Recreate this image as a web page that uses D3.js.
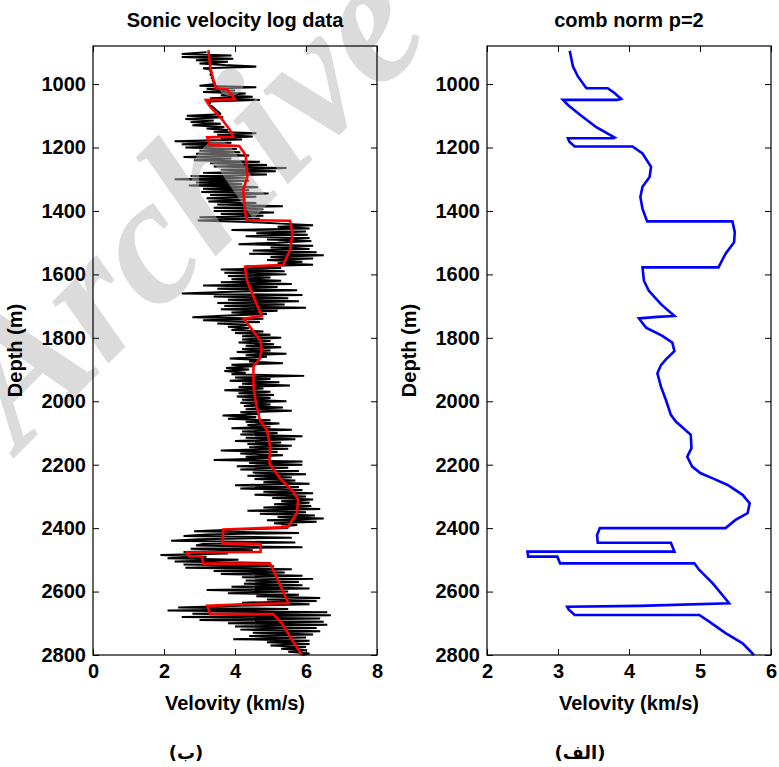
<!DOCTYPE html>
<html>
<head>
<meta charset="utf-8">
<script src="https://cdn.jsdelivr.net/npm/d3@7"></script>
<style>
  body { margin: 0; background: #fff; }
  svg { display: block; }
</style>
</head>
<body>
<svg id="chart" width="779" height="767"></svg>
<script>
// sonic log, one sample every 5 m starting at 900 m (rows = 100 m)
const logTop = 900
const logStep = 5
const logVel = [
  3.2, 2.5, 3.9, 2.5, 3.95, 2.9, 3.8, 3.0, 3.7, 4.6, 3.1, 3.32, 3.3, 3.35, 3.3, 3.36, 3.34, 3.38, 3.37, 3.42,
  3.45, 3.0, 4.6, 3.2, 4.0, 3.1, 4.3, 3.6, 4.5, 3.3, 4.7, 3.25, 3.3, 3.25, 3.35, 3.4, 3.45, 3.5, 3.55, 3.6,
  2.64, 3.67, 2.6, 3.4, 2.75, 3.6, 2.8, 3.7, 3.2, 3.8, 3.4, 4.6, 3.5, 4.5, 3.6, 4.2, 2.3, 3.9, 2.5, 4.1,
  2.6, 4.05, 3.0, 4.15, 2.9, 4.4, 2.55, 3.9, 2.85, 4.7, 3.3, 4.9, 3.4, 5.45, 3.6, 5.15, 3.1, 4.9, 2.75, 4.3,
  2.3, 4.4, 2.9, 4.2, 2.7, 4.65, 3.1, 4.4, 3.05, 4.95, 3.3, 4.6, 3.2, 4.3, 3.25, 4.6, 3.5, 5.35, 3.4, 4.8,
  3.4, 5.1, 3.6, 4.8, 3.0, 4.7, 2.95, 4.4, 5.3, 6.2, 5.2, 6.1, 3.9, 6.0, 4.6, 6.05, 4.3, 6.1, 4.9, 6.15,
  5.2, 4.1, 6.2, 5.0, 6.1, 4.5, 6.3, 4.4, 6.5, 5.0, 6.2, 4.9, 5.9, 5.2, 6.2, 4.3, 5.3, 3.6, 5.4, 3.7,
  5.45, 3.8, 5.0, 3.9, 5.3, 3.6, 5.6, 3.1, 5.2, 3.5, 5.75, 3.9, 2.5, 5.9, 3.4, 5.5, 3.8, 5.8, 3.5, 5.4,
  3.7, 6.0, 3.6, 5.2, 3.9, 4.9, 3.8, 2.8, 4.8, 3.1, 4.7, 3.5, 4.4, 3.8, 4.4, 3.9, 4.8, 4.0, 5.0, 4.2,
  5.3, 4.2, 5.0, 4.1, 5.1, 4.3, 5.3, 4.2, 5.0, 4.05, 5.45, 4.3, 4.9, 3.85, 4.7, 4.4, 5.35, 3.9, 4.5, 3.75,
  4.4, 3.7, 4.3, 3.9, 5.95, 4.0, 5.0, 3.85, 5.25, 4.2, 5.55, 4.1, 4.8, 3.7, 5.0, 4.1, 5.1, 4.05, 5.0, 4.2,
  5.45, 4.15, 5.0, 4.25, 5.35, 4.3, 5.6, 4.15, 4.7, 3.65, 4.6, 3.8, 5.0, 4.3, 5.25, 4.35, 5.0, 3.9, 5.6, 4.2,
  5.2, 4.15, 5.9, 4.3, 5.7, 4.0, 5.3, 4.35, 5.6, 4.4, 5.5, 3.6, 5.2, 4.15, 5.35, 4.3, 5.0, 3.4, 5.9, 4.4,
  5.9, 4.05, 5.5, 4.15, 5.8, 4.5, 6.0, 4.35, 5.6, 4.55, 5.7, 4.8, 6.1, 4.0, 5.8, 4.15, 5.9, 4.8, 6.2, 4.55,
  6.0, 5.05, 6.2, 5.3, 6.1, 5.1, 6.15, 4.8, 6.4, 4.35, 6.0, 4.7, 6.25, 5.2, 6.5, 4.9, 6.3, 5.1, 5.75, 5.3,
  5.5, 3.9, 2.85, 5.8, 3.2, 2.55, 5.6, 3.0, 2.2, 5.7, 3.1, 2.9, 5.9, 2.75, 4.5, 2.55, 3.8, 1.9, 3.2, 2.1,
  4.1, 2.3, 5.0, 2.55, 5.1, 2.6, 5.6, 3.4, 5.4, 3.6, 5.9, 4.2, 6.2, 4.3, 5.8, 4.25, 5.9, 3.9, 6.1, 3.2,
  5.5, 3.8, 5.8, 4.6, 6.4, 4.9, 6.3, 4.2, 6.1, 4.1, 2.4, 5.5, 2.1, 6.6, 2.8, 6.7, 2.5, 6.4, 3.0, 6.5,
  3.8, 6.6, 4.0, 6.3, 4.15, 6.4, 4.5, 6.2, 4.4, 6.0, 3.95, 6.1, 4.9, 6.1, 5.0, 6.0, 5.3, 6.0, 5.5, 6.1,
  5.9
]

// smoothed (red) curve on the left panel
const redDepth = [893, 945, 987, 1013, 1016, 1048, 1050, 1071, 1103, 1145, 1166, 1168, 1192, 1195, 1224, 1292,
  1334, 1397, 1429, 1431, 1470, 1523, 1570, 1576, 1618, 1670, 1731, 1740, 1765, 1810, 1838, 1865, 1891, 1954,
  2017, 2059, 2091, 2143, 2196, 2243, 2285, 2311, 2353, 2397, 2404, 2448, 2450, 2475, 2477, 2488, 2490, 2512,
  2512, 2574, 2637, 2640, 2645, 2671, 2671, 2700, 2742, 2800]
const redVel = [3.25, 3.30, 3.39, 3.46, 3.77, 4.0, 3.18, 3.30, 3.58, 3.86, 3.95, 3.22, 3.28, 4.12, 4.30, 4.35,
  4.23, 4.28, 4.33, 5.55, 5.62, 5.55, 5.36, 4.28, 4.33, 4.52, 4.75, 4.25, 4.42, 4.72, 4.75, 4.70, 4.52, 4.52,
  4.61, 4.70, 4.90, 4.99, 4.97, 5.27, 5.64, 5.78, 5.74, 5.48, 3.67, 3.65, 4.72, 4.72, 2.64, 2.69, 3.06, 3.11,
  4.99, 5.25, 5.50, 4.23, 3.22, 3.30, 5.08, 5.32, 5.55, 5.88]

// comb norm p=2 (blue) on the right panel
const combDepth = [895, 944, 976, 1013, 1013, 1029, 1047, 1050, 1050, 1066, 1097, 1136, 1169, 1171, 1171, 1182,
  1197, 1197, 1219, 1261, 1293, 1324, 1356, 1393, 1433, 1433, 1467, 1499, 1535, 1578, 1578, 1620, 1652, 1694,
  1731, 1734, 1739, 1768, 1794, 1815, 1842, 1868, 1886, 1912, 1954, 1996, 2043, 2064, 2106, 2148, 2175, 2206,
  2227, 2243, 2264, 2295, 2322, 2353, 2374, 2400, 2400, 2422, 2446, 2446, 2474, 2474, 2490, 2490, 2511, 2511,
  2532, 2574, 2637, 2645, 2648, 2656, 2674, 2674, 2695, 2731, 2763, 2800]
const combVel = [3.165, 3.21, 3.28, 3.40, 3.70, 3.80, 3.89, 3.84, 3.07, 3.14, 3.31, 3.54, 3.80, 3.78, 3.14, 3.16,
  3.235, 4.05, 4.19, 4.31, 4.29, 4.19, 4.16, 4.19, 4.255, 5.457, 5.49, 5.48, 5.36, 5.26, 4.19, 4.21, 4.28, 4.45,
  4.64, 4.40, 4.14, 4.24, 4.47, 4.61, 4.64, 4.52, 4.45, 4.40, 4.45, 4.52, 4.59, 4.66, 4.87, 4.88, 4.82, 4.89,
  5.01, 5.18, 5.39, 5.60, 5.70, 5.67, 5.50, 5.36, 3.59, 3.55, 3.56, 4.59, 4.64, 2.57, 2.58, 2.99, 3.03, 4.92,
  4.99, 5.18, 5.41, 4.15, 3.13, 3.15, 3.235, 4.99, 5.13, 5.36, 5.60, 5.76]

const depthTicks = [1000, 1200, 1400, 1600, 1800, 2000, 2200, 2400, 2600, 2800]
const leftTicks = [0, 2, 4, 6, 8]
const rightTicks = [2, 3, 4, 5, 6]

const svg = d3.select("#chart")
const font = "'Liberation Sans', Arial, sans-serif"

const y = d3.scaleLinear().domain([880, 2800]).range([46, 655])
const xL = d3.scaleLinear().domain([0, 8]).range([93, 377])
const xR = d3.scaleLinear().domain([2, 6]).range([487, 771])

const logData = logVel.map((v, i) => ({d: logTop + i * logStep, v: v}))
const redData = redDepth.map((d, i) => ({d: d, v: redVel[i]}))
const combData = combDepth.map((d, i) => ({d: d, v: combVel[i]}))

const lineOf = x => d3.line().x(p => x(p.v)).y(p => y(p.d))

// black log
svg.append("path")
    .datum(logData)
    .attr("d", lineOf(xL))
    .attr("fill", "none")
    .attr("stroke", "#000")
    .attr("stroke-width", 2)
    .attr("stroke-linejoin", "bevel")

// watermark
svg.append("text")
    .text("Archive")
    .attr("transform", "translate(20,452) rotate(-45)")
    .attr("font-family", "'Liberation Serif', 'Times New Roman', serif")
    .attr("font-weight", "bold")
    .attr("font-style", "italic")
    .attr("font-size", 182)
    .attr("fill", "#b8b8b8")
    .attr("opacity", 0.5)

svg.append("path")
    .datum(redData)
    .attr("d", lineOf(xL))
    .attr("fill", "none")
    .attr("stroke", "#ff0000")
    .attr("stroke-width", 2.6)

svg.append("path")
    .datum(combData)
    .attr("d", lineOf(xR))
    .attr("fill", "none")
    .attr("stroke", "#0000ff")
    .attr("stroke-width", 2.6)

function panel(x, ticks, title, tag) {
    const [x0, x1] = x.range()
    const [y0, y1] = y.range()

    const bottom = svg.append("g").attr("transform", `translate(0,${y1})`)
        .call(d3.axisBottom(x).tickValues(ticks).tickFormat(d3.format("d"))
            .tickSizeInner(-6).tickSizeOuter(0).tickPadding(9))
    svg.append("g").attr("transform", `translate(0,${y0})`)
        .call(d3.axisTop(x).tickValues(ticks).tickSizeInner(-6).tickSizeOuter(0).tickFormat(""))
    const left = svg.append("g").attr("transform", `translate(${x0},0)`)
        .call(d3.axisLeft(y).tickValues(depthTicks).tickFormat(d3.format("d"))
            .tickSizeInner(-6).tickSizeOuter(0).tickPadding(7))
    svg.append("g").attr("transform", `translate(${x1},0)`)
        .call(d3.axisRight(y).tickValues(depthTicks).tickSizeInner(-6).tickSizeOuter(0).tickFormat(""))

    svg.selectAll(".domain").remove()
    svg.selectAll(".tick line").attr("stroke", "#000")
    ;[bottom, left].forEach(g => g.selectAll("text")
        .attr("font-family", font)
        .attr("font-weight", "bold")
        .attr("font-size", 20)
        .attr("fill", "#000"))

    svg.append("rect")
        .attr("x", x0).attr("y", y0)
        .attr("width", x1 - x0).attr("height", y1 - y0)
        .attr("fill", "none").attr("stroke", "#000").attr("stroke-width", 1.2)

    const cx = (x0 + x1) / 2
    svg.append("text").text(title)
        .attr("x", cx).attr("y", 27)
        .attr("text-anchor", "middle")
        .attr("font-family", font).attr("font-weight", "bold").attr("font-size", 20)

    svg.append("text").text("Velovity (km/s)")
        .attr("x", cx).attr("y", 710)
        .attr("text-anchor", "middle")
        .attr("font-family", font).attr("font-weight", "bold").attr("font-size", 20)

    svg.append("text").text("Depth (m)")
        .attr("transform", `translate(${x0 - 71},${(y0 + y1) / 2}) rotate(-90)`)
        .attr("text-anchor", "middle")
        .attr("font-family", font).attr("font-weight", "bold").attr("font-size", 20)

    svg.append("text").text(tag)
        .attr("x", cx - 49).attr("y", 759)
        .attr("text-anchor", "middle")
        .attr("direction", "rtl")
        .attr("font-family", "'DejaVu Sans', sans-serif").attr("font-weight", "bold").attr("font-size", 18)
}

panel(xL, leftTicks, "Sonic velocity log data", "(ب)")
panel(xR, rightTicks, "comb norm p=2", "(الف)")
</script>
</body>
</html>
